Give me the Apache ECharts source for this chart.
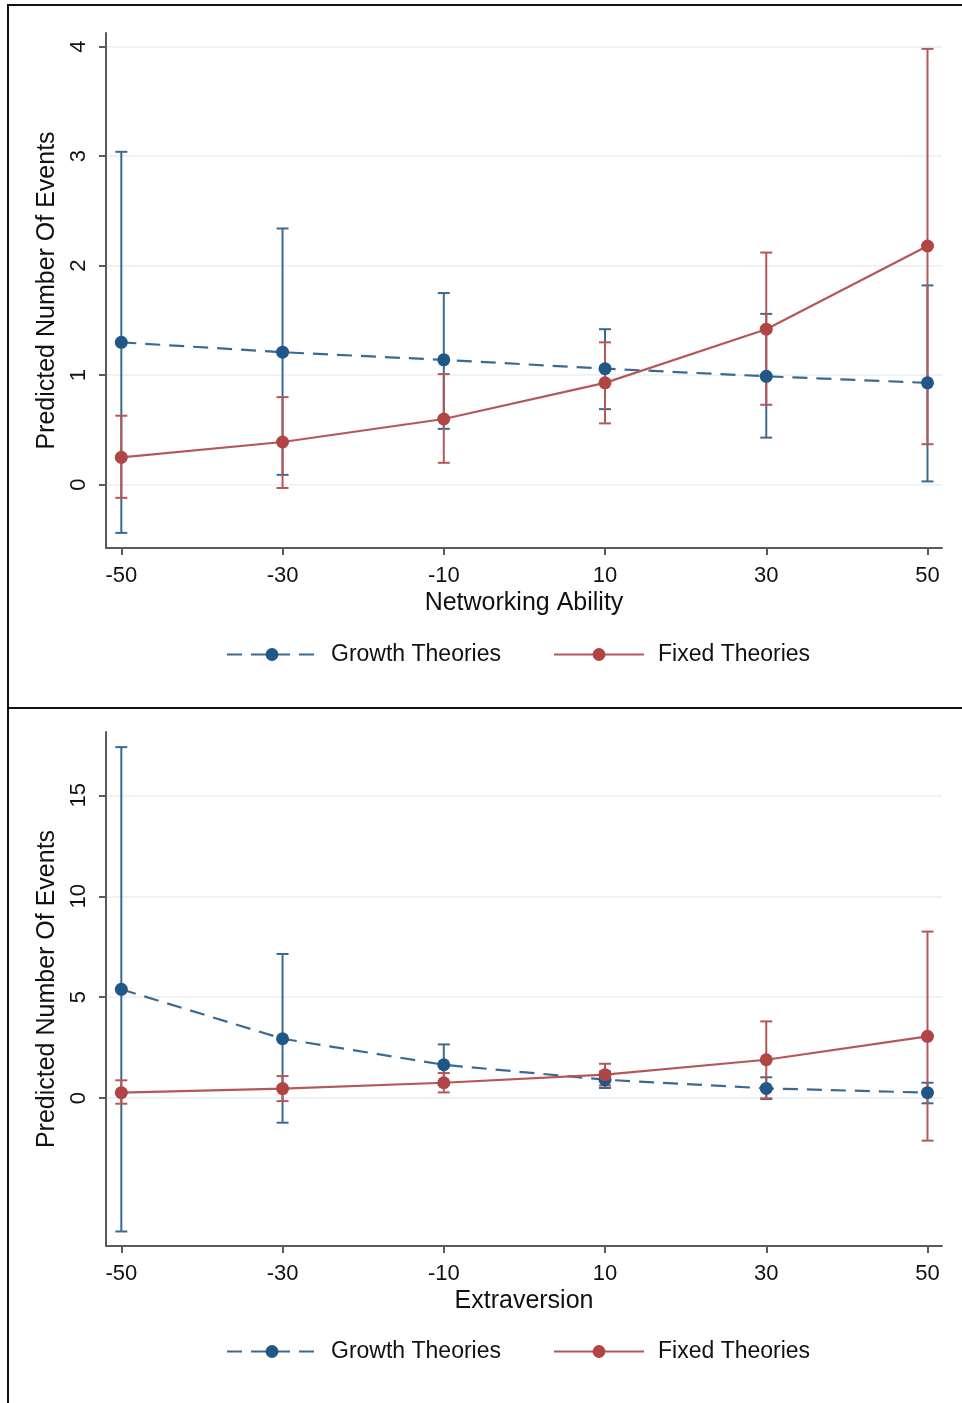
<!DOCTYPE html>
<html>
<head>
<meta charset="utf-8">
<script src="https://cdn.jsdelivr.net/npm/echarts@6/dist/echarts.min.js"></script>
<style>
  html, body { margin: 0; padding: 0; background: #fff; }
  #wrap { position: relative; width: 962px; height: 1403px; overflow: hidden; background: #fff; }
  #chart { position: absolute; left: 0; top: 0; width: 962px; height: 1403px; }
  .frame { position: absolute; background: #111; }
</style>
</head>
<body>
<div id="wrap">
  <div id="chart"></div>
  <div class="frame" style="left:7px; top:4px; width:955px; height:2px;"></div>
  <div class="frame" style="left:7px; top:707px; width:955px; height:2px;"></div>
  <div class="frame" style="left:7px; top:4px; width:2px; height:1399px;"></div>
</div>
<script>
// ---- data ----
const xValues = [-50, -30, -10, 10, 30, 50];
const xTickLabels = [-50, -30, -10, 10, 30, 50];

// Panel 1: Networking Ability
const netTicks = [0, 1, 2, 3, 4];
const netGrowth   = [1.30, 1.21, 1.14, 1.06, 0.99, 0.93];
const netGrowthLo = [-0.44, 0.09, 0.51, 0.69, 0.43, 0.03];
const netGrowthHi = [3.04, 2.34, 1.75, 1.42, 1.56, 1.82];
const netFixed    = [0.25, 0.39, 0.60, 0.93, 1.42, 2.18];
const netFixedLo  = [-0.12, -0.03, 0.20, 0.56, 0.73, 0.37];
const netFixedHi  = [0.63, 0.80, 1.01, 1.30, 2.12, 3.98];

// Panel 2: Extraversion
const extTicks = [0, 5, 10, 15];
const extGrowth   = [5.39, 2.94, 1.65, 0.91, 0.48, 0.27];
const extGrowthLo = [-6.61, -1.22, 0.65, 0.50, -0.05, -0.26];
const extGrowthHi = [17.39, 7.14, 2.66, 1.32, 1.03, 0.76];
const extFixed    = [0.27, 0.47, 0.76, 1.16, 1.90, 3.06];
const extFixedLo  = [-0.28, -0.15, 0.28, 0.62, -0.01, -2.11];
const extFixedHi  = [0.88, 1.09, 1.24, 1.70, 3.80, 8.25];

const seriesNames = ['Growth Theories', 'Fixed Theories'];
const xTitles = ['Networking Ability', 'Extraversion'];
const yTitle = 'Predicted Number Of Events';

// ---- styles ----
const FONT = '"Liberation Sans", Arial, Helvetica, sans-serif';
const BLUE_M = '#1f5886';
const BLUE_L = '#3a6a92';
const RED_M = '#b14545';
const RED_L = '#b65757';
const AXIS_C = '#5a5a5a';

function pairs(xs, ys) { return xs.map((x, i) => [x, ys[i]]); }
function ciData(xs, lo, hi) { return xs.map((x, i) => [x, lo[i], hi[i]]); }

function ciSeries(xi, data, color) {
  return {
    type: 'custom',
    xAxisIndex: xi, yAxisIndex: xi,
    silent: true,
    data: data,
    z: 2,
    renderItem: function (params, api) {
      const x = api.value(0);
      const lo = api.coord([x, api.value(1)]);
      const hi = api.coord([x, api.value(2)]);
      const hw = 6;
      const st = { stroke: color, lineWidth: 2 };
      return {
        type: 'group',
        children: [
          { type: 'line', shape: { x1: lo[0], y1: lo[1], x2: hi[0], y2: hi[1] }, style: st },
          { type: 'line', shape: { x1: hi[0] - hw, y1: hi[1], x2: hi[0] + hw, y2: hi[1] }, style: st },
          { type: 'line', shape: { x1: lo[0] - hw, y1: lo[1], x2: lo[0] + hw, y2: lo[1] }, style: st }
        ]
      };
    }
  };
}

function lineSeries(xi, name, data, lineColor, markColor, dashed) {
  return {
    type: 'line',
    name: name,
    xAxisIndex: xi, yAxisIndex: xi,
    data: data,
    symbol: 'circle',
    symbolSize: 13,
    showSymbol: true,
    z: 3,
    lineStyle: { color: lineColor, width: 2.2, type: dashed ? [15, 9] : 'solid' },
    itemStyle: { color: markColor, borderWidth: 0 },
    emphasis: { disabled: true },
    animation: false
  };
}

function xAxisCfg(gi, title) {
  return {
    type: 'value', gridIndex: gi,
    min: -51.9, max: 51.8,
    name: title, nameLocation: 'middle', nameGap: 43,
    nameTextStyle: { fontFamily: FONT, fontSize: 25, color: '#111' },
    axisLine: { show: true, onZero: false, lineStyle: { color: AXIS_C, width: 2 } },
    axisTick: { show: true, length: 7, customValues: xTickLabels, lineStyle: { color: AXIS_C, width: 2 } },
    axisLabel: { customValues: xTickLabels, fontFamily: FONT, fontSize: 22, color: '#111', margin: 17 },
    splitLine: { show: false }
  };
}

function yAxisCfg(gi, min, max, ticks) {
  return {
    type: 'value', gridIndex: gi,
    min: min, max: max,
    name: yTitle, nameLocation: 'middle', nameGap: 33,
    nameTextStyle: { fontFamily: FONT, fontSize: 25, color: '#111' },
    axisLine: { show: true, onZero: false, lineStyle: { color: AXIS_C, width: 2 } },
    axisTick: { show: true, length: 7, customValues: ticks, lineStyle: { color: AXIS_C, width: 2 } },
    axisLabel: { customValues: ticks, rotate: 90, fontFamily: FONT, fontSize: 22, color: '#111', margin: 16 },
    splitLine: { show: true, lineStyle: { color: '#eaeff3', width: 1.5 } }
  };
}

function legendCfg(name, left, top) {
  return {
    data: [name],
    left: left, top: top,
    orient: 'horizontal',
    itemWidth: 90, itemHeight: 16,
    selectedMode: false,
    textStyle: { fontFamily: FONT, fontSize: 23, color: '#111', padding: [0, 0, 0, 9] }
  };
}

const chart = echarts.init(document.getElementById('chart'), null, { renderer: 'canvas' });
chart.setOption({
  animation: false,
  backgroundColor: 'transparent',
  grid: [
    { left: 106, right: 20, top: 33, height: 515, outerBoundsMode: 'none', containLabel: false },
    { left: 106, right: 20, top: 732, height: 514, outerBoundsMode: 'none', containLabel: false }
  ],
  xAxis: [xAxisCfg(0, xTitles[0]), xAxisCfg(1, xTitles[1])],
  yAxis: [yAxisCfg(0, -0.578, 4.125, netTicks), yAxisCfg(1, -7.33, 18.14, extTicks)],
  legend: [
    legendCfg(seriesNames[0], 221, 638),
    legendCfg(seriesNames[1], 548, 638),
    legendCfg(seriesNames[0], 221, 1335),
    legendCfg(seriesNames[1], 548, 1335)
  ],
  series: [
    ciSeries(0, ciData(xValues, netGrowthLo, netGrowthHi), BLUE_L),
    ciSeries(0, ciData(xValues, netFixedLo, netFixedHi), RED_L),
    lineSeries(0, seriesNames[0], pairs(xValues, netGrowth), BLUE_L, BLUE_M, true),
    lineSeries(0, seriesNames[1], pairs(xValues, netFixed), RED_L, RED_M, false),
    ciSeries(1, ciData(xValues, extGrowthLo, extGrowthHi), BLUE_L),
    ciSeries(1, ciData(xValues, extFixedLo, extFixedHi), RED_L),
    lineSeries(1, seriesNames[0], pairs(xValues, extGrowth), BLUE_L, BLUE_M, true),
    lineSeries(1, seriesNames[1], pairs(xValues, extFixed), RED_L, RED_M, false)
  ]
});
</script>
</body>
</html>
